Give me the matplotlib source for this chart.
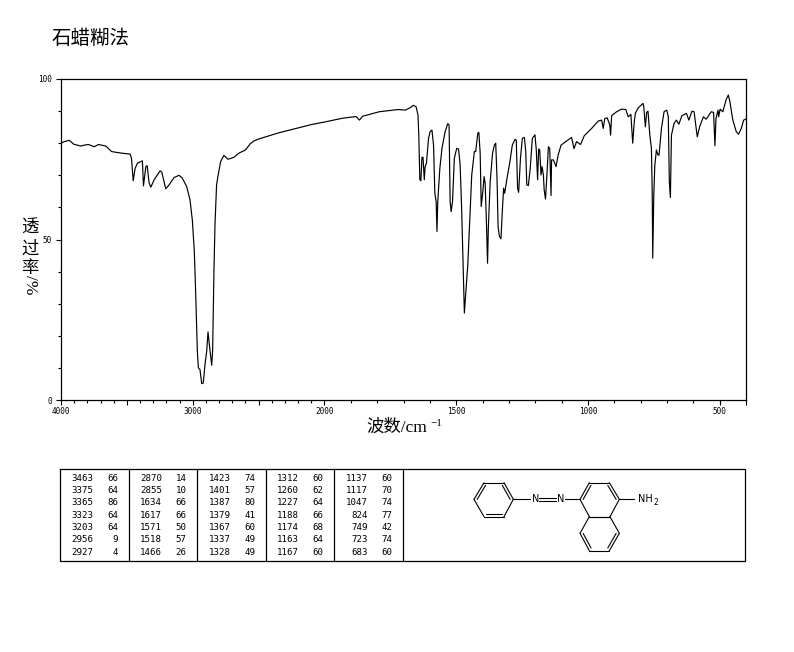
import numpy as np
import matplotlib
matplotlib.use("Agg")
import matplotlib.pyplot as plt
from matplotlib.ticker import FixedLocator, FixedFormatter

title = "石蜡糊法"
w_a = [4000,3975,3937,3904,3849,3823,3791,3748,3715,3659,3616,3558,3475,3465,3452,3437,3419,3382,3374,3356,3346,3331,3318,3293,3248,3235,3205,3180,3142,3104,3079,3046,3021,3003]
t_a = [80.0,80.5,80.9,79.7,79.1,79.4,79.6,78.9,79.6,79.1,77.4,77.0,76.6,75.3,68.3,72.2,73.8,74.5,66.7,72.7,73.0,67.6,66.3,68.6,71.4,71.0,65.8,67.0,69.3,70.0,69.1,66.5,62.4,56.1]
w_b = [2988,2978,2965,2957,2945,2932,2920,2907,2894,2884,2874,2856,2849,2839,2831,2819,2809,2788,2763,2733,2687,2650,2599,2566,2536,2500,2350,2197,2100,2000,1930,1880,1867,1855,1792,1760]
t_b = [46.3,33.8,15.2,10.0,9.5,5.1,5.3,11.0,15.2,21.2,17.3,10.8,15.2,40.1,54.6,67.0,69.6,74.3,76.2,75.0,75.6,76.9,77.9,79.7,80.7,81.3,83.2,84.8,85.8,86.6,87.8,88.3,87.2,88.4,89.8,90.1]
w_c = [1719,1693,1674,1662,1652,1645,1642,1638,1634,1630,1626,1621,1618,1613,1605,1599,1592,1586,1581,1576,1573,1570,1562,1554,1542,1532]
t_c = [90.5,90.3,91.1,91.8,91.3,88.8,82.6,68.6,68.3,75.6,75.6,68.6,72.7,73.7,81.5,83.6,84.1,79.4,64.4,61.8,52.5,61.8,72.2,78.4,83.6,86.1]
w_d = [1527,1523,1519,1514,1507,1498,1491,1485,1479,1474,1469,1464,1456,1450,1441,1431,1426,1418,1414,1409,1405,1399,1394,1390,1385,1381,1378,1371,1362,1355,1350,1345,1341,1336,1330,1325,1320,1316,1308,1296,1287,1277,1272]
t_d = [85.7,61.8,58.7,61.8,75.3,78.4,78.2,73.2,58.7,43.1,27.1,32.8,42.1,53.5,70.1,77.4,77.4,83.1,83.4,76.9,60.3,64.9,69.6,67.5,54.6,42.6,53.5,68.0,76.9,79.4,80.0,69.1,54.0,51.0,50.2,58.7,66.0,64.4,68.6,74.3,79.4,81.2,81.0]
w_e = [1267,1263,1256,1249,1241,1236,1232,1226,1219,1211,1201,1196,1191,1187,1183,1178,1174,1169,1166,1161,1156,1150,1145,1140,1138,1131,1121,1113,1102,1081,1062,1053,1043,1028,1014]
t_e = [66.0,64.7,75.3,81.5,81.8,77.4,67.0,66.8,72.2,81.5,82.6,77.9,68.6,78.2,77.9,70.1,72.7,70.1,65.4,62.6,69.6,78.9,78.4,63.7,74.8,74.8,72.7,76.3,79.4,80.7,81.8,78.3,80.5,79.6,82.3]
w_f = [986,961,948,942,936,927,917,914,910,891,873,856,847,837,830,824,820,809,791,788,782,777,772,765,759,756,754,750,746,740,734,730,721,711,701,695,691,687,683]
t_f = [84.6,86.9,87.2,84.6,87.7,87.9,85.7,82.5,88.6,89.8,90.6,90.5,88.2,89.0,80.0,86.7,89.3,91.0,92.4,91.4,85.1,89.6,90.0,82.5,78.4,64.9,44.2,63.9,73.2,77.9,76.3,76.3,84.6,89.8,90.3,88.3,68.0,63.1,82.5]
w_g = [673,664,655,643,626,617,605,597,585,576,562,551,532,523,518,514,506,504,498,488,475,467,461,450,437,428,418,409,400]
t_g = [86.2,87.2,85.9,88.6,89.3,87.2,90.0,89.8,82.0,85.1,88.2,87.5,89.8,89.6,79.2,87.7,90.3,88.2,90.6,89.8,93.7,95.0,92.9,87.2,83.6,82.8,84.6,87.2,87.5]
wavenumber = np.concatenate([w_a, w_b, w_c, w_d, w_e, w_f, w_g])
transmittance = np.concatenate([t_a, t_b, t_c, t_d, t_e, t_f, t_g])

x_major = [4000,3500,3000,2500,2000,1500,1000,500,400]
x_labels = ["4000","","3000","","2000","1500","1000","500",""]
x_minor = [w for w in range(3900,400,-100) if w not in x_major]
y_major = [0,50,100]
y_minor = [10,20,30,40,60,70,80,90]

table_w = [[3463,3375,3365,3323,3203,2956,2927],
           [2870,2855,1634,1617,1571,1518,1466],
           [1423,1401,1387,1379,1367,1337,1328],
           [1312,1260,1227,1188,1174,1163,1167],
           [1137,1117,1047,824,749,723,683]]
table_t = [[66,64,86,64,64,9,4],
           [14,10,66,66,50,57,26],
           [74,57,80,41,60,49,49],
           [60,62,64,66,68,64,60],
           [60,70,74,77,42,74,60]]

# The axis changes scale at 2000 cm-1 (twice as wide below it)
def fwd(w):
    w = np.asarray(w, float)
    return np.where(w >= 2000, w - 2000, (w - 2000) * 2.0)
def inv(p):
    p = np.asarray(p, float)
    return np.where(p >= 0, p + 2000, p / 2.0 + 2000)

W, H = 794, 652
fig = plt.figure(figsize=(W/100, H/100), dpi=100, facecolor="white")
ax = fig.add_axes([61/W, 1-400/H, 685/W, 321/H])
ax.set_xscale("function", functions=(fwd, inv))
ax.plot(wavenumber, transmittance, color="black", lw=0.85)
ax.set_xlim(4000, 400)
ax.set_ylim(0, 100)
ax.xaxis.set_major_locator(FixedLocator(x_major))
ax.xaxis.set_major_formatter(FixedFormatter(x_labels))
ax.xaxis.set_minor_locator(FixedLocator(x_minor))
ax.xaxis.set_minor_formatter(FixedFormatter([""]*len(x_minor)))
ax.yaxis.set_major_locator(FixedLocator(y_major))
ax.yaxis.set_minor_locator(FixedLocator(y_minor))
ax.yaxis.set_minor_formatter(FixedFormatter([""]*len(y_minor)))
ax.tick_params(which="major", length=3.6, width=0.8, labelsize=5.6, pad=1.6)
ax.tick_params(axis="y", which="major", pad=3)
ax.tick_params(which="minor", length=2, width=0.8)
for lab in ax.get_xticklabels() + ax.get_yticklabels():
    lab.set_family("DejaVu Sans Mono")
for s in ax.spines.values():
    s.set_linewidth(0.9)

# Pixel-coordinate overlay for text, table and structure
ov = fig.add_axes([0, 0, 1, 1], facecolor="none")
ov.set_xlim(0, W); ov.set_ylim(H, 0); ov.axis("off")
cjk = ["Liberation Serif", "Noto Sans CJK SC"]
ov.text(52, 38, title, family="Noto Sans CJK SC", fontsize=14, va="center", weight="light")
ov.text(366, 428, "波数/cm", family=cjk, fontsize=12.5, va="center")
ov.text(430, 424, "−1", family="Liberation Serif", fontsize=8, va="center")
for ch, yy in zip("透过率", (228, 249, 268)):
    ov.text(30, yy, ch, family="Noto Sans CJK SC", fontsize=12.5, ha="center", va="center", weight="light")
ov.text(30, 285, "/%", family="Liberation Serif", fontsize=12.5, rotation=270, ha="center", va="center")

# Table
lw = 0.9
ov.plot([60,745,745,60,60],[469,469,561,561,469],color="k",lw=lw)
for xd in (128.5, 197, 265.5, 334, 403):
    ov.plot([xd,xd],[469,561],color="k",lw=lw)
for c,(ws,ts) in enumerate(zip(table_w, table_t)):
    for r,(a,b) in enumerate(zip(ws,ts)):
        yy = 478.3 + r*12.33
        ov.text(93.5+c*68.6, yy, str(a), family="DejaVu Sans Mono", fontsize=6.6, ha="right", va="center")
        ov.text(118+c*68.6, yy, str(b), family="DejaVu Sans Mono", fontsize=6.6, ha="right", va="center")

# Structure (drawn as a picture, zoom coordinates mapped to pixels)
def P(X, Y):
    return 440 + X/3, 470 + Y/3
def bond(a, b):
    (x0,y0),(x1,y1) = P(*a), P(*b)
    ov.plot([x0,x1],[y0,y1],color="k",lw=0.8,solid_capstyle="round")
def ring(pts, doubles, c):
    n = len(pts)
    for i in range(n):
        bond(pts[i], pts[(i+1)%n])
    for i in doubles:
        a, b = np.array(pts[i],float), np.array(pts[(i+1)%n],float)
        cc = np.array(c,float)
        a2 = a + (cc-a)*0.16; b2 = b + (cc-b)*0.16
        bond(tuple(a2), tuple(b2))
ring([(132,38),(192,38),(220,88),(192,140),(132,140),(102,88)], [1,3,5], (161,89))
ring([(420,88),(448,38),(508,38),(538,88),(510,140),(448,140)], [0,2], (479,89))
ring([(448,140),(510,140),(538,190),(508,242),(448,242),(420,190)], [2,4], (479,191))
bond((220,88),(270,88)); bond((375,88),(420,88)); bond((538,88),(583,88))
bond((298,84),(347,84)); bond((298,92),(347,92))
ov.text(*P(287,88), "N", family="DejaVu Sans", fontsize=7, ha="center", va="center")
ov.text(*P(363,88), "N", family="DejaVu Sans", fontsize=7, ha="center", va="center")
ov.text(*P(595,88), "NH", family="DejaVu Sans", fontsize=7, ha="left", va="center")
ov.text(*P(641,98), "2", family="DejaVu Sans", fontsize=5.5, ha="left", va="center")

fig.savefig("out.png", dpi=100, facecolor="white")
